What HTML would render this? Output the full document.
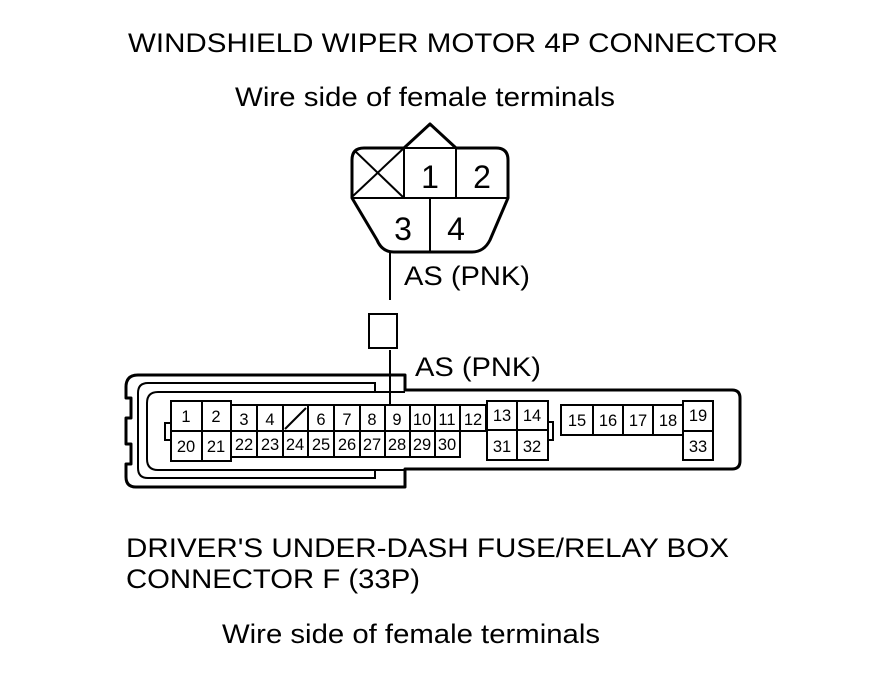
<!DOCTYPE html>
<html><head><meta charset="utf-8"><style>
html,body{margin:0;padding:0;background:#fff;}
svg{display:block;}
text{font-family:"Liberation Sans",Arial,sans-serif;fill:#000;}
</style></head><body>
<svg width="880" height="696" viewBox="0 0 880 696" xmlns="http://www.w3.org/2000/svg">
<g font-size="27">
<text x="128" y="52" textLength="650" lengthAdjust="spacingAndGlyphs">WINDSHIELD WIPER MOTOR 4P CONNECTOR</text>
<text x="235" y="106" textLength="380" lengthAdjust="spacingAndGlyphs">Wire side of female terminals</text>
<text x="404" y="285" textLength="126" lengthAdjust="spacingAndGlyphs">AS (PNK)</text>
<text x="415" y="376" textLength="126" lengthAdjust="spacingAndGlyphs">AS (PNK)</text>
<text x="126" y="557" textLength="603" lengthAdjust="spacingAndGlyphs">DRIVER'S UNDER-DASH FUSE/RELAY BOX</text>
<text x="126" y="588" textLength="294" lengthAdjust="spacingAndGlyphs">CONNECTOR F (33P)</text>
<text x="222" y="643" textLength="378" lengthAdjust="spacingAndGlyphs">Wire side of female terminals</text>
</g>
<!-- 4P connector -->
<g fill="none" stroke="#000" stroke-width="2">
<line x1="355" y1="151" x2="404" y2="198"/>
<line x1="404" y1="148" x2="353" y2="196"/>
</g>
<g fill="none" stroke="#000" stroke-width="3" stroke-linejoin="round">
<path d="M364,148 L404,148 L430,124 L456,148 L496,148 Q508,148 508,160 L508,198 L490,240 Q484,252 472,252 L394,252 Q382,252 377,240 L352,198 L352,160 Q352,148 364,148 Z"/>
</g>
<g fill="none" stroke="#000" stroke-width="2">
<line x1="404" y1="148" x2="456" y2="148"/>
<line x1="352" y1="198" x2="508" y2="198"/>
<line x1="404" y1="148" x2="404" y2="198"/>
<line x1="456" y1="148" x2="456" y2="198"/>
<line x1="430" y1="198" x2="430" y2="252"/>
<line x1="390" y1="252" x2="390" y2="300"/>
<rect x="369" y="314" width="28" height="34"/>
<line x1="390" y1="350" x2="390" y2="401"/>
</g>
<g font-size="32" text-anchor="middle">
<text x="430" y="188">1</text><text x="482" y="188">2</text>
<text x="403" y="240">3</text><text x="456" y="240">4</text>
</g>
<!-- 33P connector shell -->
<g fill="none" stroke="#000" stroke-width="3" stroke-linejoin="round">
<path d="M405,390 L405,375 L138,375 Q126,375 126,387 L126,398 L131,398 L131,418 L126,418 L126,444 L131,444 L131,464 L126,464 L126,477 Q126,487 136,487 L405,487 L405,469 L732,469 Q740,469 740,461 L740,398 Q740,390 732,390 Z"/>
</g>
<g fill="none" stroke="#000" stroke-width="2">
<path d="M375,391 L375,383 L148,383 Q138,383 138,393 L138,468 Q138,478 148,478 L375,478 L375,470"/>
<path d="M405,392 L158,392 Q147,392 147,403 L147,459 Q147,470 158,470 L405,470"/>
<rect x="165" y="423" width="6" height="17"/>
<rect x="548" y="422" width="5" height="18"/>
</g>
<g fill="#fff" stroke="#000" stroke-width="2">
<rect x="171" y="401" width="31" height="60"/>
<rect x="202" y="401" width="29" height="60"/>
<rect x="231" y="405" width="229" height="52"/>
<rect x="460" y="405" width="26" height="26"/>
<rect x="487" y="401" width="61" height="59"/>
<rect x="561" y="405" width="122" height="30"/>
<rect x="683" y="401" width="30" height="59"/>
</g>
<g fill="none" stroke="#000" stroke-width="2">
<line x1="171" y1="431" x2="231" y2="431"/>
<line x1="231" y1="431" x2="460" y2="431"/>
<path d="M257,405V457M283,405V457M308,405V457M334,405V457M360,405V457M385,405V457M410,405V457M435,405V457M460,405V431"/>
<line x1="487" y1="430" x2="548" y2="430"/>
<line x1="517" y1="401" x2="517" y2="460"/>
<path d="M593,405V435M623,405V435M653,405V435"/>
<line x1="683" y1="431" x2="713" y2="431"/>
<line x1="285" y1="429" x2="306" y2="408"/>
<line x1="390" y1="392" x2="390" y2="405"/>
</g>
<g font-size="16.5" text-anchor="middle">
<text x="186" y="422">1</text><text x="216" y="422">2</text>
<text x="244" y="425">3</text><text x="270" y="425">4</text>
<text x="321" y="425">6</text><text x="347" y="425">7</text><text x="372" y="425">8</text><text x="397" y="425">9</text>
<text x="422" y="425">10</text><text x="447" y="425">11</text><text x="473" y="425">12</text>
<text x="186" y="452">20</text><text x="216" y="452">21</text>
<text x="244" y="450">22</text><text x="270" y="450">23</text><text x="295" y="450">24</text><text x="321" y="450">25</text>
<text x="347" y="450">26</text><text x="372" y="450">27</text><text x="397" y="450">28</text><text x="422" y="450">29</text><text x="447" y="450">30</text>
<text x="502" y="421">13</text><text x="532" y="421">14</text>
<text x="502" y="452">31</text><text x="532" y="452">32</text>
<text x="577" y="426">15</text><text x="608" y="426">16</text><text x="638" y="426">17</text><text x="668" y="426">18</text>
<text x="698" y="421">19</text><text x="698" y="452">33</text>
</g>
</svg>
</body></html>
